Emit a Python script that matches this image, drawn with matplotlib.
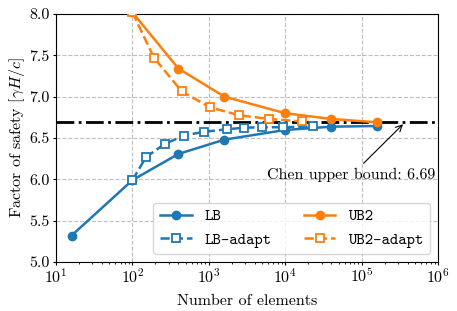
import matplotlib
matplotlib.use("Agg")
import matplotlib.pyplot as plt

plt.rcParams['font.family'] = 'serif'
plt.rcParams['font.serif'] = ['cmr10']
plt.rcParams['mathtext.fontset'] = 'cm'
plt.rcParams['axes.formatter.use_mathtext'] = True
plt.rcParams['font.size'] = 11.5

lb_n = [16, 100, 400, 1600, 10000, 40000, 160000]
lb_v = [5.32, 5.99, 6.307, 6.48, 6.597, 6.637, 6.645]

ub2_n = [100, 400, 1600, 10000, 40000, 160000]
ub2_v = [8.02, 7.34, 7.00, 6.80, 6.73, 6.69]

lba_n = [100, 151, 267, 479, 870, 1714, 2920, 4900, 9450, 23300]
lba_v = [5.99, 6.27, 6.43, 6.53, 6.576, 6.605, 6.625, 6.63, 6.63, 6.64]

ub2a_n = [100, 192, 441, 1038, 2510, 6200, 16400]
ub2a_v = [8.02, 7.47, 7.065, 6.87, 6.775, 6.73, 6.70]

chen = 6.69

blue = '#1f77b4'
orange = '#ff7f0e'

fig = plt.figure(figsize=(4.57, 3.11), dpi=100)
ax = fig.add_axes([56/457, 1-262/311, (438-56)/457, (262-14)/311])

ax.grid(True, which='major', linestyle='--', color='#b0b0b0', linewidth=0.8, alpha=0.8)
ax.set_axisbelow(True)

ax.axhline(chen, color='black', linestyle='-.', linewidth=2.0, zorder=1.5)

ax.plot(lb_n, lb_v, '-o', color=blue, lw=1.8, ms=6, label='LB', zorder=3)
ax.plot(lba_n, lba_v, '--s', color=blue, lw=1.8, ms=6, mfc='white', mew=1.3, label='LB-adapt', zorder=3)
ax.plot(ub2_n, ub2_v, '-o', color=orange, lw=1.8, ms=6, label='UB2', zorder=3)
ax.plot(ub2a_n, ub2a_v, '--s', color=orange, lw=1.8, ms=6, mfc='white', mew=1.3, label='UB2-adapt', zorder=3)

ax.set_xscale('log')
ax.set_xlim(10, 1e6)
ax.set_ylim(5.0, 8.0)
ax.set_yticks([5.0, 5.5, 6.0, 6.5, 7.0, 7.5, 8.0])
ax.set_yticklabels(['5.0', '5.5', '6.0', '6.5', '7.0', '7.5', '8.0'])

ax.tick_params(axis='both', which='major', length=2.5, width=0.8)
ax.tick_params(axis='both', which='minor', length=1.5, width=0.6)
ax.tick_params(axis='x', which='major', pad=1.0)
ax.tick_params(axis='y', which='major', pad=2.2)

ax.set_xlabel('Number of elements', labelpad=6.5)
ax.set_ylabel(r'Factor of safety [$\gamma H/c$]', labelpad=1.5)

ax.annotate('Chen upper bound: 6.69', xy=(3.7e5, chen), xytext=(7.4e4, 6.05),
            ha='center', va='center',
            arrowprops=dict(arrowstyle='->', color='black', lw=0.8))

h, l = ax.get_legend_handles_labels()
ax.legend(h, l, loc='lower right', ncol=2, prop={'family': 'cmtt10', 'size': 11.5})

fig.savefig('out.png', dpi=100)
